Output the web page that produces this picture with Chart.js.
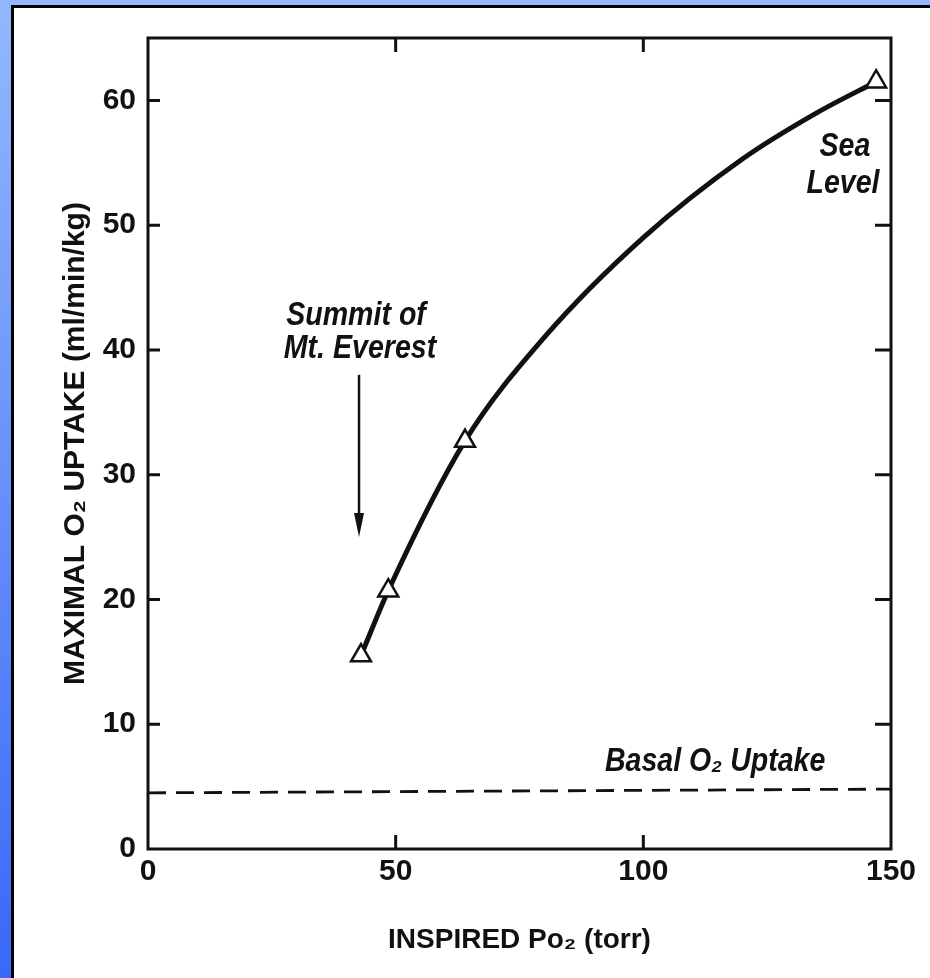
<!DOCTYPE html>
<html>
<head>
<meta charset="utf-8">
<script src="https://cdn.jsdelivr.net/npm/chart.js@4.4.1/dist/chart.umd.min.js"></script>
<style>
    html, body { margin: 0; padding: 0; }
    body {
        width: 930px; height: 978px; overflow: hidden; position: relative;
        background: linear-gradient(to bottom, #93b8fd, #3a68f8);
    }
    #panel {
        position: absolute; left: 11px; top: 5px; right: 0; bottom: 0;
        background: #fff; border-left: 3px solid #000; border-top: 3px solid #000;
    }
    #chart { position: absolute; left: 0; top: 0; }
</style>
</head>
<body>
<div id="panel"></div>
<canvas id="chart" width="930" height="978"></canvas>
<script>
    // measured points (triangles)
    const pointPo2 = [43, 48.5, 64, 147];
    const pointUptake = [15.5, 20.7, 32.7, 61.5];

    // fitted curve
    const curvePo2 = [43, 48.5, 64, 80, 100, 120, 135, 147];
    const curveUptake = [15.5, 20.7, 32.7, 41, 49, 55.3, 59, 61.5];

    // basal uptake (dashed)
    const basalPo2 = [0, 150];
    const basalUptake = [4.5, 4.8];

    const xTicks = [0, 50, 100, 150];
    const yTicks = [0, 10, 20, 30, 40, 50, 60];

    const FAMILY = '"Liberation Sans", Arial, sans-serif';
    const INK = '#111';

    function pairs(xs, ys) {
        return xs.map((x, i) => ({ x: x, y: ys[i] }));
    }

    // condensed italic note, centred on a data position
    function note(ctx, text, px, py) {
        ctx.save();
        ctx.translate(px, py);
        ctx.scale(0.84, 1);
        ctx.fillText(text, 0, 0);
        ctx.restore();
    }

    // frame, inward ticks, arrow and notes
    const decorations = {
        id: 'decorations',
        afterDatasetsDraw(chart) {
            const { ctx, chartArea: a, scales: { x, y } } = chart;
            ctx.save();
            ctx.strokeStyle = INK;
            ctx.lineWidth = 3;
            ctx.strokeRect(a.left, a.top, a.right - a.left, a.bottom - a.top);

            ctx.beginPath();
            xTicks.filter(v => v > 0 && v < 150).forEach(v => {
                const px = x.getPixelForValue(v);
                ctx.moveTo(px, a.bottom); ctx.lineTo(px, a.bottom - 14);
                ctx.moveTo(px, a.top); ctx.lineTo(px, a.top + 14);
            });
            yTicks.filter(v => v > 0).forEach(v => {
                const py = y.getPixelForValue(v);
                ctx.moveTo(a.left, py); ctx.lineTo(a.left + 12, py);
                ctx.moveTo(a.right, py); ctx.lineTo(a.right - 16, py);
            });
            ctx.stroke();

            // arrow to the summit point
            const ax = x.getPixelForValue(42.6);
            const ay0 = y.getPixelForValue(38.0);
            const ay1 = y.getPixelForValue(25.0);
            ctx.lineWidth = 2.5;
            ctx.beginPath();
            ctx.moveTo(ax, ay0); ctx.lineTo(ax, ay1 - 18);
            ctx.stroke();
            ctx.fillStyle = INK;
            ctx.beginPath();
            ctx.moveTo(ax - 5, ay1 - 24);
            ctx.lineTo(ax + 5, ay1 - 24);
            ctx.lineTo(ax, ay1);
            ctx.closePath();
            ctx.fill();

            ctx.font = 'italic bold 34px ' + FAMILY;
            ctx.textAlign = 'center';
            ctx.textBaseline = 'middle';
            note(ctx, 'Summit of', x.getPixelForValue(42.0), y.getPixelForValue(42.75));
            note(ctx, 'Mt. Everest', x.getPixelForValue(42.8), y.getPixelForValue(40.1));
            note(ctx, 'Sea', x.getPixelForValue(140.7), y.getPixelForValue(56.3));
            note(ctx, 'Level', x.getPixelForValue(140.3), y.getPixelForValue(53.3));
            note(ctx, 'Basal O\u2082 Uptake', x.getPixelForValue(114.5), y.getPixelForValue(7.0));
            ctx.restore();
        }
    };

    function draw() {
        new Chart(document.getElementById('chart'), {
            type: 'scatter',
            data: {
                datasets: [
                    {
                        label: 'Measured',
                        data: pairs(pointPo2, pointUptake),
                        showLine: false,
                        pointStyle: 'triangle',
                        pointRadius: 11.5,
                        pointBorderWidth: 2.5,
                        pointBackgroundColor: '#fff',
                        pointBorderColor: INK,
                        clip: false
                    },
                    {
                        label: 'Curve',
                        data: pairs(curvePo2, curveUptake),
                        showLine: true,
                        cubicInterpolationMode: 'monotone',
                        borderColor: INK,
                        borderWidth: 5,
                        pointRadius: 0
                    },
                    {
                        label: 'Basal',
                        data: pairs(basalPo2, basalUptake),
                        showLine: true,
                        borderColor: INK,
                        borderWidth: 2.8,
                        borderDash: [18, 10],
                        pointRadius: 0
                    }
                ]
            },
            options: {
                responsive: false,
                devicePixelRatio: 1,
                animation: false,
                events: [],
                layout: { padding: { left: 0, top: 38, right: 39, bottom: 0 } },
                plugins: { legend: { display: false }, tooltip: { enabled: false } },
                scales: {
                    x: {
                        type: 'linear', min: 0, max: 150,
                        afterBuildTicks: s => { s.ticks = xTicks.map(v => ({ value: v })); },
                        afterFit: s => { s.height = 129; },
                        grid: { display: false, drawTicks: false },
                        border: { display: false },
                        ticks: { color: INK, padding: 5, font: { family: FAMILY, size: 30, weight: 'bold' } },
                        title: {
                            display: true, text: 'INSPIRED Po\u2082 (torr)', color: INK,
                            padding: { top: 0, bottom: 21 },
                            font: { family: FAMILY, size: 28, weight: 'bold' }
                        }
                    },
                    y: {
                        type: 'linear', min: 0, max: 65,
                        afterBuildTicks: s => { s.ticks = yTicks.map(v => ({ value: v })); },
                        afterFit: s => { s.width = 148; },
                        grid: { display: false, drawTicks: false },
                        border: { display: false },
                        ticks: { color: INK, padding: 12, font: { family: FAMILY, size: 30, weight: 'bold' } },
                        title: {
                            display: true, text: 'MAXIMAL O\u2082 UPTAKE (ml/min/kg)', color: INK,
                            padding: { top: 58, bottom: 0 },
                            font: { family: FAMILY, size: 30, weight: 'bold' }
                        }
                    }
                }
            },
            plugins: [decorations]
        });
    }

    if (document.fonts && document.fonts.load) {
        Promise.all([
            document.fonts.load('bold 30px ' + FAMILY),
            document.fonts.load('italic bold 34px ' + FAMILY)
        ]).then(draw, draw);
    } else {
        draw();
    }
</script>
</body>
</html>
